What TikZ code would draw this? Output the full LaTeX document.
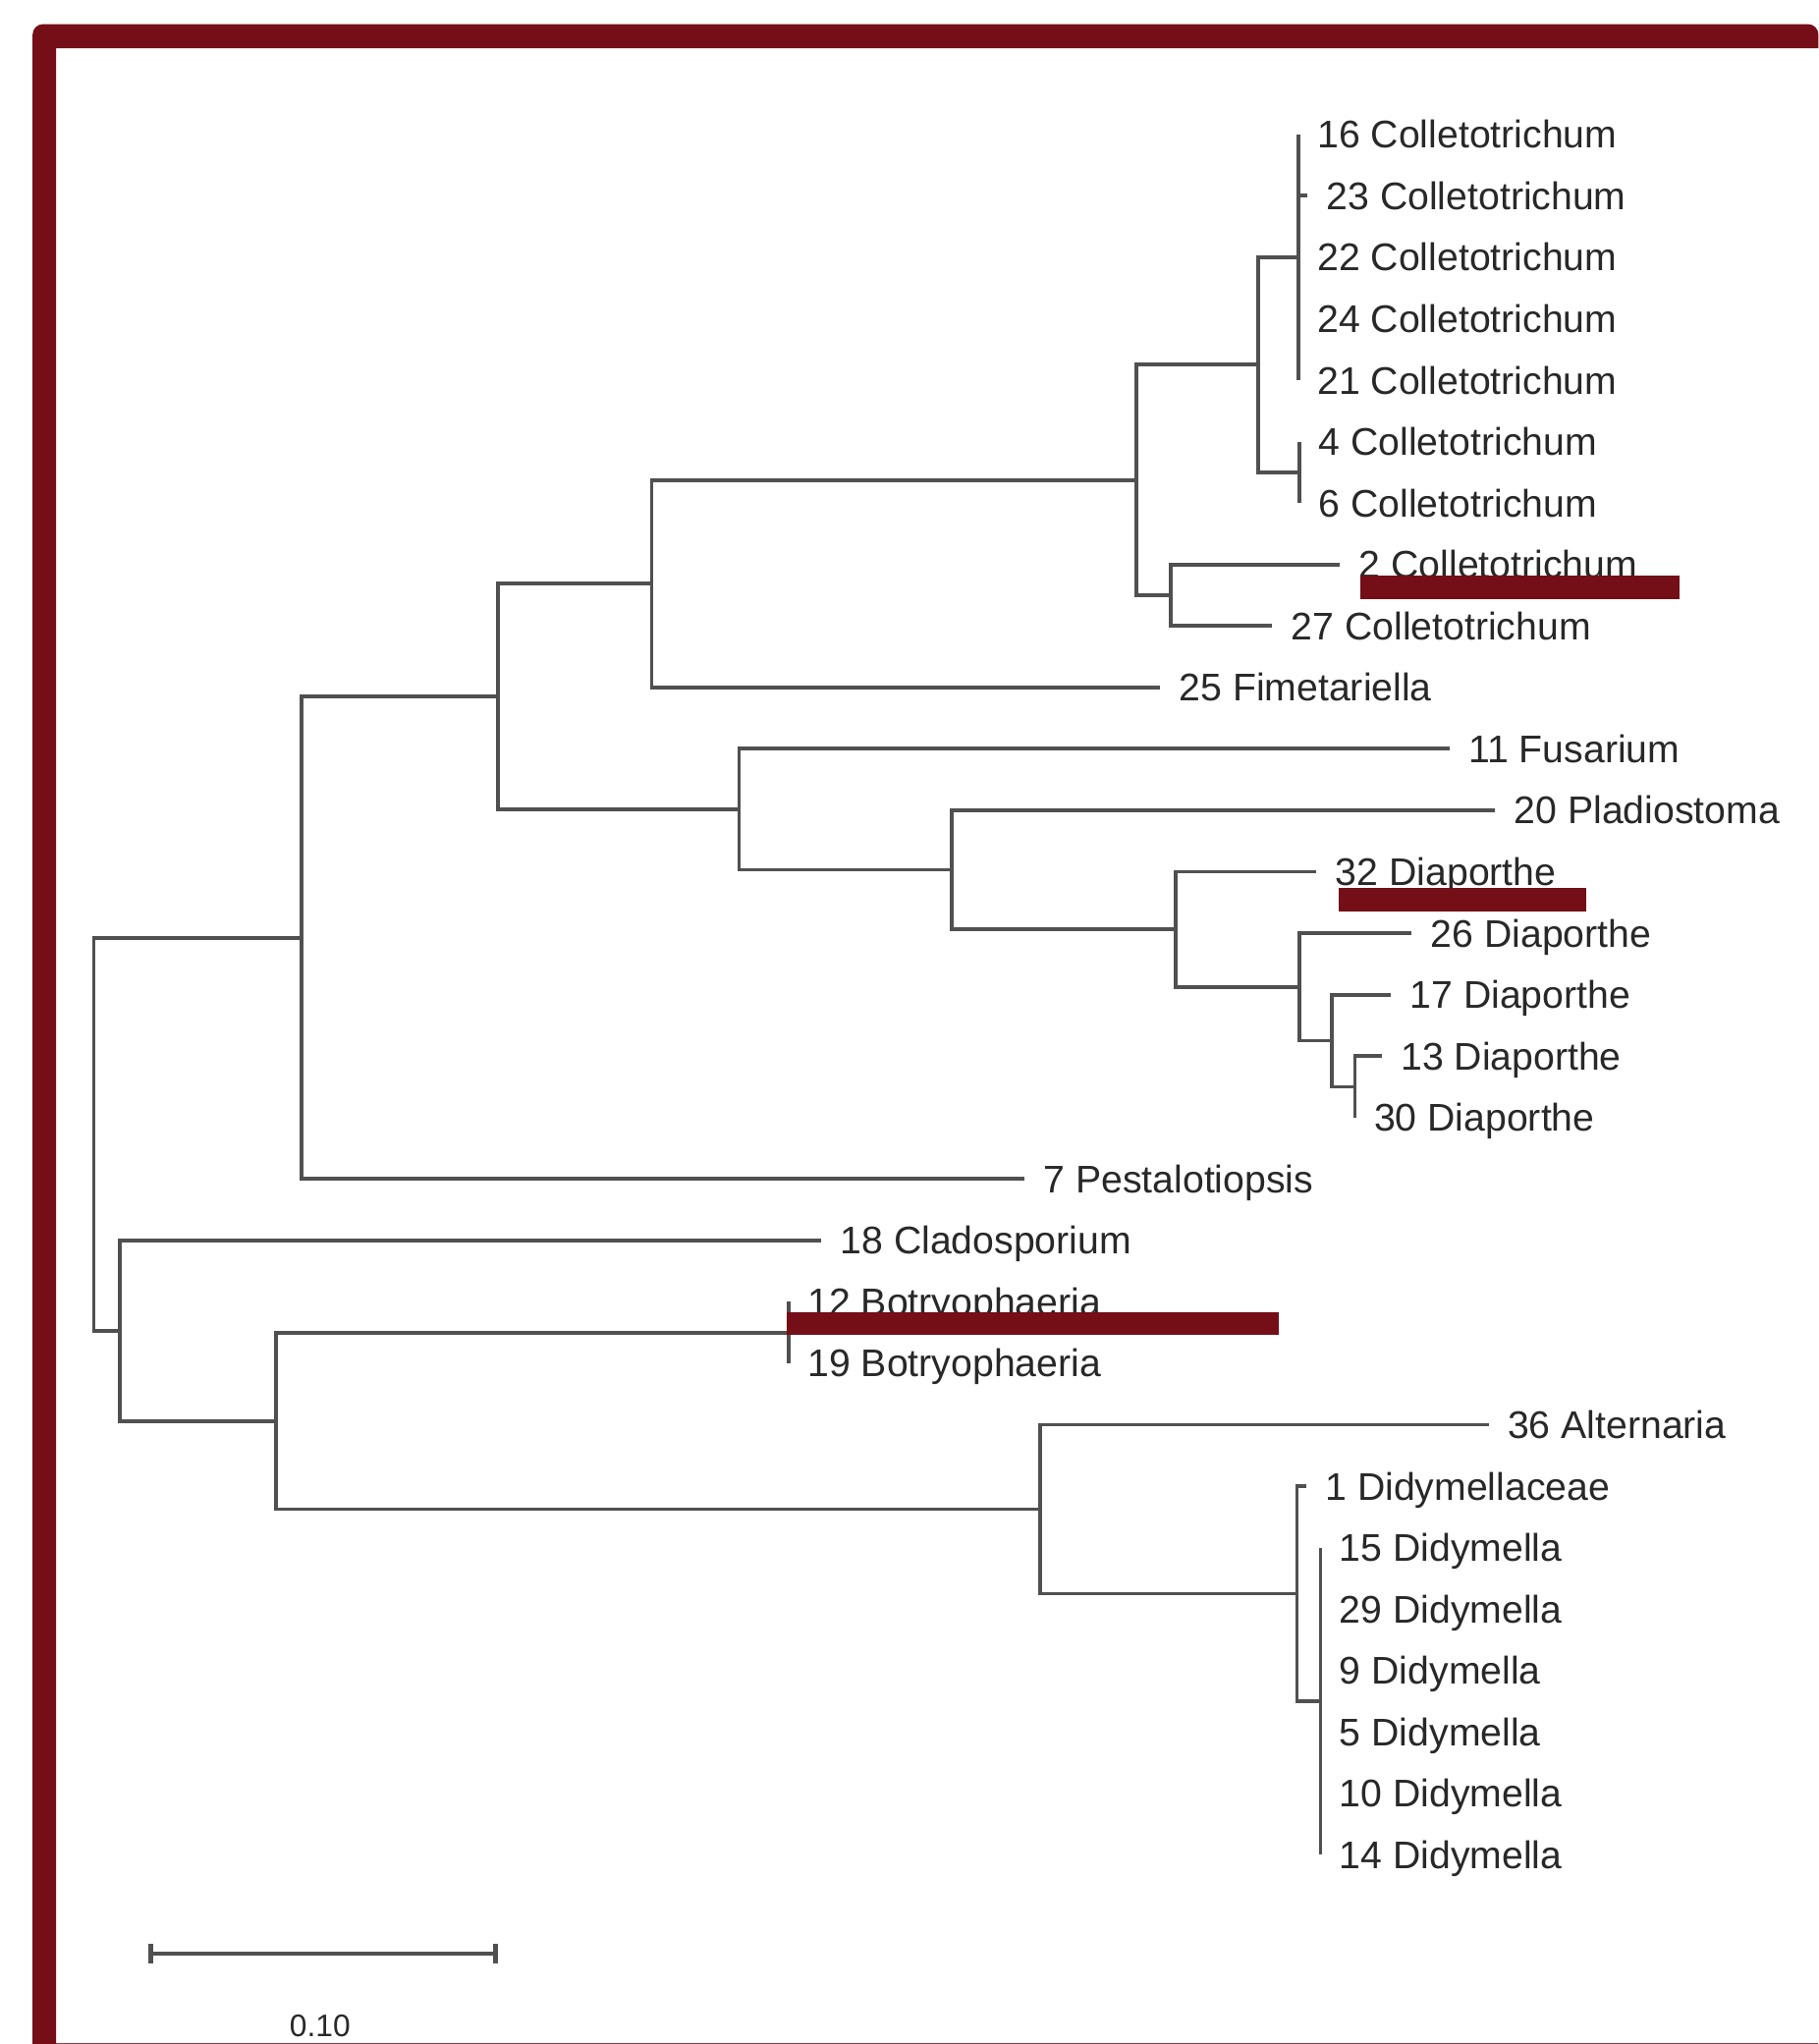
\documentclass[tikz,border=0pt]{standalone}
\usepackage{fontspec}
\setmainfont{Liberation Sans}
\definecolor{framered}{RGB}{116,14,23}
\definecolor{linegray}{RGB}{80,80,80}
\definecolor{textgray}{RGB}{40,40,40}
\begin{document}
\begin{tikzpicture}[x=0.01cm,y=-0.01cm,
  br/.style={draw=linegray, line width=0.8pt},
  leaf/.style={anchor=base west, inner sep=0pt, xshift=0.14cm, yshift=-3pt,
    font=\fontsize{8.4}{10}\selectfont, text=textgray},
  hl/.style={fill=framered},
  scalebar/.style={draw=linegray, line width=0.95pt}]

\fill[white] (0,0) rectangle (1395,1568);
\useasboundingbox (0,0) rectangle (1395,1568);

% frame
\fill[framered] (1395,37) -- (43,37) -- (43,1568) -- (25,1568)
  [rounded corners=0.08cm] -- (25,18.5) -- (1395,18.5) [sharp corners] -- cycle;
\draw[framered!80, line width=0.4pt] (43,1567.7) -- (1395,1567.7);

% leaf tips
\coordinate (t16) at (996,103.0);
\coordinate (t23) at (1003,150.1);
\coordinate (t22) at (996,197.3);
\coordinate (t24) at (996,244.4);
\coordinate (t21) at (996,291.6);
\coordinate (t4)  at (997,338.7);
\coordinate (t6)  at (997,385.8);
\coordinate (t2)  at (1028,433.0);
\coordinate (t27) at (976,480.1);
\coordinate (t25) at (890,527.3);
\coordinate (t11) at (1112,574.4);
\coordinate (t20) at (1147,621.5);
\coordinate (t32) at (1010,668.7);
\coordinate (t26) at (1083,715.8);
\coordinate (t17) at (1067,763.0);
\coordinate (t13) at (1060,810.1);
\coordinate (t30) at (1039.5,857.2);
\coordinate (t7)  at (786,904.4);
\coordinate (t18) at (630,951.5);
\coordinate (t12) at (605,998.7);
\coordinate (t19) at (605,1045.8);
\coordinate (t36) at (1142,1093.0);
\coordinate (t1)  at (1002,1140.1);
\coordinate (t15) at (1013,1187.2);
\coordinate (t29) at (1013,1234.4);
\coordinate (t9)  at (1013,1281.5);
\coordinate (t5)  at (1013,1328.6);
\coordinate (t10) at (1013,1375.8);
\coordinate (t14) at (1013,1422.9);

% internal nodes
\coordinate (P1) at (996,197.3);
\coordinate (P2) at (997,362.3);
\coordinate (E)  at (965,279.8);
\coordinate (F)  at (898,456.6);
\coordinate (D)  at (872,368.2);
\coordinate (C)  at (500,447.7);
\coordinate (Q)  at (1039.5,833.7);
\coordinate (P)  at (1021.5,798.3);
\coordinate (O)  at (997,757);
\coordinate (N)  at (902,712.9);
\coordinate (H)  at (730,667.2);
\coordinate (G)  at (567,620.8);
\coordinate (B)  at (382,534.2);
\coordinate (A)  at (231.5,719.3);
\coordinate (R)  at (605,1022.2);
\coordinate (M)  at (1013,1305);
\coordinate (L)  at (995,1222.6);
\coordinate (K)  at (798,1157.8);
\coordinate (J)  at (211.5,1090);
\coordinate (I)  at (92,1020.8);
\coordinate (root) at (72,870);

% branches
\foreach \p/\c in {root/A, root/I, A/B, A/t7, B/C, B/G, C/D, C/t25, D/E, D/F,
  E/P1, E/P2, P1/t16, P1/t23, P1/t22, P1/t24, P1/t21, P2/t4, P2/t6, F/t2, F/t27,
  G/t11, G/H, H/t20, H/N, N/t32, N/O, O/t26, O/P, P/t17, P/Q, Q/t13, Q/t30,
  I/t18, I/J, J/R, J/K, R/t12, R/t19, K/t36, K/L, L/t1, L/M,
  M/t15, M/t29, M/t9, M/t5, M/t10, M/t14}
  \draw[br] (\p) |- (\c);

% labels
\node[leaf] (l16) at (t16) {16 Colletotrichum};
\node[leaf] (l23) at (t23) {23 Colletotrichum};
\node[leaf] (l22) at (t22) {22 Colletotrichum};
\node[leaf] (l24) at (t24) {24 Colletotrichum};
\node[leaf] (l21) at (t21) {21 Colletotrichum};
\node[leaf] (l4)  at (t4)  {4 Colletotrichum};
\node[leaf] (l6)  at (t6)  {6 Colletotrichum};
\node[leaf] (l2)  at (t2)  {2 Colletotrichum};
\node[leaf] (l27) at (t27) {27 Colletotrichum};
\node[leaf] (l25) at (t25) {25 Fimetariella};
\node[leaf] (l11) at (t11) {11 Fusarium};
\node[leaf] (l20) at (t20) {20 Pladiostoma};
\node[leaf] (l32) at (t32) {32 Diaporthe};
\node[leaf] (l26) at (t26) {26 Diaporthe};
\node[leaf] (l17) at (t17) {17 Diaporthe};
\node[leaf] (l13) at (t13) {13 Diaporthe};
\node[leaf] (l30) at (t30) {30 Diaporthe};
\node[leaf] (l7)  at (t7)  {7 Pestalotiopsis};
\node[leaf] (l18) at (t18) {18 Cladosporium};
\node[leaf] (l12) at (t12) {12 Botryophaeria};
\node[leaf] (l19) at (t19) {19 Botryophaeria};
\node[leaf] (l36) at (t36) {36 Alternaria};
\node[leaf] (l1)  at (t1)  {1 Didymellaceae};
\node[leaf] (l15) at (t15) {15 Didymella};
\node[leaf] (l29) at (t29) {29 Didymella};
\node[leaf] (l9)  at (t9)  {9 Didymella};
\node[leaf] (l5)  at (t5)  {5 Didymella};
\node[leaf] (l10) at (t10) {10 Didymella};
\node[leaf] (l14) at (t14) {14 Didymella};

% highlight bars
\fill[hl] (1043.3,441.6) rectangle (1288.2,459.7);
\fill[hl] (1026.8,681.3) rectangle (1217,699.1);
\fill[hl] (603.5,1006.3) rectangle (981,1024);

% scale bar
\coordinate (sb1) at (115.5,1498.5);
\coordinate (sb2) at (380,1498.5);
\draw[scalebar] (sb1) -- (sb2);
\draw[scalebar] ([yshift=0.075cm]sb1) -- ([yshift=-0.075cm]sb1);
\draw[scalebar] ([yshift=0.075cm]sb2) -- ([yshift=-0.075cm]sb2);
\node[inner sep=0pt, anchor=base, font=\fontsize{6.8}{8}\selectfont, text=textgray]
  (sblabel) at (245.5,1562) {0.10};
\end{tikzpicture}
\end{document}
